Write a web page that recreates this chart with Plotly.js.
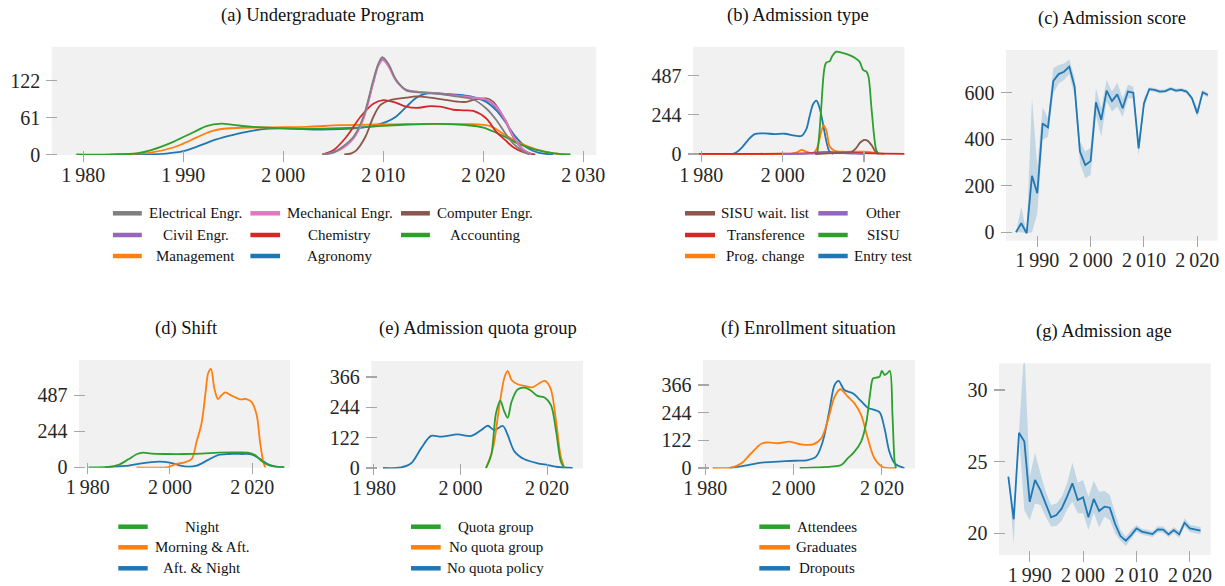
<!DOCTYPE html>
<html><head><meta charset="utf-8">
<script src="https://cdn.plot.ly/plotly-3.0.1.min.js"></script>
<style>html,body{margin:0;padding:0;background:#fff}</style>
</head><body><div id="chart" style="width:1225px;height:586px"></div>
<script>
// ---------- DATA ----------
// (a) Undergraduate Program (KDE curves)
const agroX = [1984.5,1986.5,1988.3,1990,1991.7,1993.3,1995,1996.7,1998.3,2000.7,2003.3,2005.7,2007.7,2009,2010.3,2011.3,2012.3,2013.3,2014.3,2015.7,2017.3,2019,2020.3,2021.3,2022.2,2023.2,2024.3,2025.5,2027];
const agroY = [0,0.3,1.6,5.5,15,25,32.5,38.6,42.4,43,41.3,41.9,44,47.4,54,63,78.8,94,100.8,100.8,99,95,87,73,54,30,12,3,0];
const mgmtX = [1982.7,1984.5,1986.7,1989,1990,1991.3,1992.7,1994.3,1995.7,1999,2002.3,2005.7,2009,2012.3,2015.7,2019,2020.7,2022.2,2023.5,2025.2,2027.1,2028.7];
const mgmtY = [0,0.5,3,11.6,18,28,38,43,44,45,45.7,48.5,49.6,50,50.7,50,46.8,32,20,9,2,0];
const accX = [1979.3,1983,1985.3,1986.7,1989,1990,1991.3,1992.3,1993.8,1995,1996.7,1999,2002.3,2005.7,2009,2012.3,2015.7,2018.3,2020,2021.3,2022.2,2023.5,2025.2,2027.1,2028.7];
const accY = [0,0.3,2,7,21,29,39,47,51,49,46,44,42.4,43.5,46,49.6,50.7,48.5,44.6,36,29,18,8,2,0];
const chemX = [2003.9,2005,2006.3,2007.7,2009,2010,2011,2012.3,2013.3,2014.7,2015.7,2017,2018,2019,2020.3,2021.3,2022.2,2023,2024,2025.2];
const chemY = [0,7,29,62,84,90,87,79,77,80,79,74,73,72,59.5,37.5,23.7,12,4,0];
const engX = [2004.1,2005.7,2007,2008,2009,2009.5,2009.95,2010.5,2011.3,2012.3,2013.3,2015.7,2017.3,2019,2020.5,2021.3,2022.2,2023,2024,2024.8];
const civilY = [0,9,27,60,120,148,158,148,122,107,104,101,98,94,89,77,55,29,7,0];
const mechY = [0,8,26,58,118,146,156,146,121,106,104,100,97,94,90,79,57,30,8,0];
const elecX = [2003.9,2005,2005.7,2007,2008,2009,2009.5,2009.9,2010.5,2011.3,2012.3,2013.3,2015.7,2017.3,2019,2020.3,2021.3,2022.2,2023,2024,2024.6];
const elecY = [0,3,10,29,62,123,150,161,150,123,106,103,100,96,91,76,57,35,18,5,0];
const compX = [2006.1,2006.8,2007.3,2008.2,2009,2009.7,2010.7,2012.3,2013.3,2014.3,2015.7,2017.3,2018.3,2019.3,2020.3,2021,2021.8,2022.2,2023,2024,2025];
const compY = [0,2,7,29,62,81.5,90,94,96,95,91.5,87.6,87,91.5,92.6,87,68,57,30,8,0];
const progNames = ["Agronomy","Management","Accounting","Chemistry","Civil Engr.","Computer Engr.","Mechanical Engr.","Electrical Engr."];

// (b) Admission type
const entryX = [1982.5,1986,1988.2,1989.8,1991.5,1993.1,1995.6,1998,2000.5,2003,2004.6,2005.8,2006.6,2007.5,2008.3,2009.1,2009.9,2010.7,2011.5,2012.4];
const entryY = [0,0.5,4,35,87,124,128,124,126,114,112,153,232,311,332,284,190,85,15,0];
const progChX = [1980,1995,2002,2003.5,2004.6,2005.8,2007.5,2008.5,2009.4,2010.1,2010.8,2011.6,2012.8,2015,2018,2020,2022,2023.5,2025];
const progChY = [0,0,1,10,25,15,4,40,130,180,140,45,20,14,15,14,10,4,0];
const sisuX = [2008.5,2009.0,2009.5,2010.2,2010.7,2011.6,2012.1,2013.2,2014.4,2016.1,2017.7,2018.9,2019.8,2020.6,2021.1,2021.8,2022.5,2023,2023.6];
const sisuY = [0,120,294,522,568,578,605,636,630,618,599,574,522,512,481,294,108,25,0];
const transX = [1978,1990,2000,2005,2008,2010,2013,2016,2020,2025,2030];
const transY = [0.5,1,2,4,8,12,10,8,5,2,0.5];
const otherX = [2000,2005,2008,2010,2012,2014,2016,2018,2020];
const otherY = [0,1,4,7,8,6,4,2,0];
const waitX = [2008,2012,2015,2016.9,2018,2019,2020,2021,2022,2022.8,2023.6];
const waitY = [0,5,8,12,35,70,87,80,50,15,0];
const admNames = ["Entry test","Prog. change","SISU","Transference","Other","SISU wait. list"];

// (c) Admission score (mean and confidence band)
const scoreYears = [1986,1987,1988,1989,1990,1991,1992,1993,1994,1995,1996,1997,1998,1999,2000,2001,2002,2003,2004,2005,2006,2007,2008,2009,2010,2011,2012,2013,2014,2015,2016,2017,2018,2019,2020,2021,2022];
const scoreMean = [0,39,-4,243,168,468,451,650,680,690,712,626,347,289,306,559,483,609,564,593,533,605,600,361,554,615,612,605,607,617,609,612,605,576,511,602,590];
const scoreLow  = [0,0,-4,0,82,397,411,597,640,655,680,583,297,232,246,504,411,562,519,540,497,576,575,328,533,607,604,597,599,609,601,604,597,566,494,592,580];
const scoreHigh = [0,110,-4,578,282,537,490,705,719,726,743,662,390,347,364,619,533,655,605,643,576,634,626,390,576,623,620,613,615,625,617,620,613,586,533,612,600];

// (d) Shift
const nightX = [1980.2,1985,1987.5,1989.9,1991.9,1993.5,1995.5,1999.6,2003.6,2007.7,2011.7,2015.8,2019,2020.7,2022.3,2023.9,2025.5,2027.8];
const nightY = [0,2,16,54,88,99,92,90,90,92,99,101,99,83,43,16,4.5,0];
const aftNX = [1984.2,1989.1,1993.1,1997.2,1999.6,2002,2004.5,2006.5,2009.3,2011.7,2014.2,2017.4,2019.8,2022.3,2023.9,2025.5,2027.8];
const aftNY = [0,9,27,38,34,16,4.5,11,50,83,90,90,88,50,20,7,0];
const mornX = [1991.9,1999.6,2001.2,2003.6,2005.3,2006.5,2007.7,2008.7,2009.3,2010,2010.8,2011.7,2012.6,2013.5,2015,2017,2018.6,2019.8,2021.1,2021.9,2022.7,2023.2];
const mornY = [0,2,20,34,56,174,298,512,636,665,535,462,489,507,485,460,462,444,354,174,38,0];
const shiftNames = ["Aft. & Night","Morning & Aft.","Night"];

// (e) Admission quota group
const noPolX = [1982.1,1986.3,1988.6,1990.9,1993.2,1995.5,1999.4,2002.5,2004.8,2006.3,2007.8,2009.8,2010.9,2012.5,2014.8,2017.8,2020.2,2022.5,2025.9];
const noPolY = [0,2.7,19,79,129,126,135,129,153,170,153,169,133,66,35,19,12,4,0];
const noGrpX = [2005.9,2007.5,2009,2010.2,2010.9,2011.8,2013.2,2014.8,2016.7,2018.2,2019.5,2020.8,2022.1,2023.1,2024];
const noGrpY = [0,79,253,367,391,354,337,330,325,341,350,320,186,52,0];
const quotaX = [2005.9,2007.1,2008.2,2009.2,2010,2010.9,2011.8,2013.2,2014.8,2016.3,2017.8,2019.4,2020.9,2022.1,2023.2,2024];
const quotaY = [0,52,220,271,233,202,267,316,323,311,290,284,253,146,25,0];
const quotaNames = ["No quota policy","No quota group","Quota group"];

// (f) Enrollment situation
const dropX = [1985.5,1989.7,1992.7,1996.5,2000.2,2003.2,2005.1,2006.6,2008.2,2009.3,2010.2,2011.5,2013.4,2015.3,2016.8,2018.3,2019.5,2020.6,2021.7,2022.9,2025.1];
const dropY = [0,13,23.5,28,32,35,50,116,263,366,384,344,329,295,266,256,245,175,72,20.6,0];
const gradX = [1981.7,1985.9,1988.2,1990.4,1992.7,1994.2,1996.5,1999.1,2001.7,2004.4,2006.3,2007.8,2009.3,2010.6,2012.3,2013.8,2015.3,2016.8,2018.3,2020.2,2023.2];
const gradY = [0,1.5,20.6,65,107,113,109,116,104,104,131,212,314,347,314,285,234,131,43,4.4,0];
const attX = [2001.4,2008.5,2010.8,2012.3,2013.8,2015.3,2016.5,2017.4,2018,2018.7,2019.5,2020,2020.6,2021.2,2021.8,2022.4,2022.9,2023.2];
const attY = [0,6,13,43,72,116,204,337,395,398,403,428,410,417,428,234,28,0];
const enrollNames = ["Dropouts","Graduates","Attendees"];

// (g) Admission age (mean and confidence band)
const ageYears = [1986,1987,1988,1989,1990,1991,1992,1993,1994,1995,1996,1997,1998,1999,2000,2001,2002,2003,2004,2005,2006,2007,2008,2009,2010,2011,2012,2013,2014,2015,2016,2017,2018,2019,2020,2021,2022];
const ageMean = [23.95,20.98,27.02,26.4,22.2,23.72,23.02,22.05,21.12,21.28,21.74,22.56,23.49,22.33,22.51,21.12,22.4,21.56,21.86,21.79,20.65,19.81,19.49,19.88,20.35,20.12,20.05,19.95,20.28,20.26,19.93,20.23,19.93,20.74,20.35,20.28,20.19];
const ageLow  = [23.95,19.3,26.9,21.6,20.93,22.09,21.98,21.16,20.47,20.51,20.88,21.67,22.21,21.4,21.4,20.23,21.44,20.4,21.16,20.93,20.0,19.49,19.12,19.58,20.12,19.92,19.85,19.75,20.06,20.04,19.72,20.01,19.7,20.47,20.1,20.03,19.93];
const ageHigh = [23.95,21.0,27.1,33.0,23.95,25.63,24.19,22.9,21.98,22.09,22.56,23.49,24.95,23.53,23.72,22.56,23.67,22.9,22.95,22.67,21.4,20.23,19.77,20.23,20.58,20.32,20.25,20.15,20.5,20.48,20.14,20.45,20.16,21.05,20.6,20.53,20.45];

// tick labels
const yTicksA = [0,61,122];
const yTicksB = [0,244,487];
const yTicksC = [0,200,400,600];
const yTicksE = [0,122,244,366];
const yTicksG = [20,25,30];

// ---------- STYLE ----------
const W = 1225, H = 586;
const C = {blue:'#1f77b4',orange:'#ff7f0e',green:'#2ca02c',red:'#d62728',purple:'#9467bd',brown:'#8c564b',pink:'#e377c2',gray:'#7f7f7f'};
const FONT = 'Liberation Serif';
const fmtYear = v => { const s = String(v); return s.length === 4 ? s[0] + '\u2009' + s.slice(1) : s; };

const panels = [
  {id:'',  box:[51.7,596.3,46.7,155], xr:[1976.84,2031.3], yr:[-0.8,178.2], xt:[1980,1990,2000,2010,2020,2030], yt:yTicksA, title:'(a) Undergraduate Program', tx:323, ty:15},
  {id:'2', box:[693,904.5,46.7,155], xr:[1977.96,2029.95], yr:[-6.2,667], xt:[1980,2000,2020], yt:yTicksB, title:'(b) Admission type', tx:798, ty:15},
  {id:'3', box:[1006,1217.7,50,240.7], xr:[1984.13,2023.83], yr:[-36.1,783.5], xt:[1990,2000,2010,2020], yt:yTicksC, title:'(c) Admission score', tx:1111.7, ty:18.3},
  {id:'4', box:[79,290,360,467.7], xr:[1977.9,2029.2], yr:[-2.7,726], xt:[1980,2000,2020], yt:yTicksB, title:'(d) Shift', tx:186, ty:328.3},
  {id:'5', box:[371.3,583,361,468.5], xr:[1979.4,2028.3], yr:[-2,430.4], xt:[1980,2000,2020], yt:yTicksE, title:'(e) Admission quota group', tx:477.7, ty:328.3},
  {id:'6', box:[703,915,360,468.5], xr:[1979.5,2027.5], yr:[-2.2,476], xt:[1980,2000,2020], yt:yTicksE, title:'(f) Enrollment situation', tx:808, ty:328.3},
  {id:'7', box:[999,1210.7,363.3,555], xr:[1984.25,2023.9], yr:[18.49,31.86], xt:[1990,2000,2010,2020], yt:yTicksG, title:'(g) Admission age', tx:1104, ty:331.7}
];

const layout = {
  width:W, height:H, margin:{l:0,r:0,t:0,b:0}, paper_bgcolor:'#fff', plot_bgcolor:'#f1f1f1',
  showlegend:false, font:{family:FONT, color:'#262626'}, annotations:[], shapes:[]
};
const HALF = 5.5;
panels.forEach(p => {
  const [l,r,t,b] = p.box;
  layout['xaxis'+p.id] = {domain:[l/W, r/W], range:p.xr, anchor:'free', position:1-(b-HALF)/H,
    tickvals:p.xt, ticktext:p.xt.map(fmtYear), ticks:'outside', ticklen:2*HALF, tickcolor:'#a6a6a6', tickwidth:1.1,
    showgrid:false, zeroline:false, showline:false, tickfont:{family:FONT,size:20,color:'#262626'}, ticklabelstandoff:-4};
  layout['yaxis'+p.id] = {domain:[1-b/H, 1-t/H], range:p.yr, anchor:'free', position:(l+HALF)/W,
    tickvals:p.yt, ticktext:p.yt.map(String), ticks:'outside', ticklen:2*HALF, tickcolor:'#a6a6a6', tickwidth:1.1,
    showgrid:false, zeroline:false, showline:false, tickfont:{family:FONT,size:20,color:'#262626'}, ticklabelstandoff:2};
  layout.annotations.push({text:p.title, xref:'paper', yref:'paper', x:p.tx/W, y:1-p.ty/H, xanchor:'center', yanchor:'middle',
    showarrow:false, font:{family:FONT,size:18.5,color:'#111'}});
});

const traces = [];
function line(id, x, y, color, w) {
  traces.push({type:'scatter', mode:'lines', x:x, y:y, xaxis:'x'+id, yaxis:'y'+id,
    line:{color:color, width:w||1.8, shape:'spline', smoothing:0.9}, hoverinfo:'skip'});
}
function band(id, x, lo, hi, mean) {
  traces.push({type:'scatter', mode:'lines', x:x, y:hi, xaxis:'x'+id, yaxis:'y'+id, line:{width:0}, hoverinfo:'skip'});
  traces.push({type:'scatter', mode:'lines', x:x, y:lo, xaxis:'x'+id, yaxis:'y'+id, line:{width:0}, fill:'tonexty', fillcolor:'rgba(31,119,180,0.22)', hoverinfo:'skip'});
  traces.push({type:'scatter', mode:'lines', x:x, y:mean, xaxis:'x'+id, yaxis:'y'+id, line:{color:C.blue, width:1.8}, hoverinfo:'skip'});
}

// (a)
line('', agroX, agroY, C.blue);
line('', mgmtX, mgmtY, C.orange);
line('', accX, accY, C.green);
line('', chemX, chemY, C.red);
line('', engX, civilY, C.purple);
line('', compX, compY, C.brown);
line('', engX, mechY, C.pink);
line('', elecX, elecY, C.gray);
// (b)
line('2', entryX, entryY, C.blue);
line('2', progChX, progChY, C.orange);
line('2', sisuX, sisuY, C.green);
line('2', transX, transY, C.red);
line('2', otherX, otherY, C.purple);
line('2', waitX, waitY, C.brown);
// (c)
band('3', scoreYears, scoreLow, scoreHigh, scoreMean);
// (d)
line('4', aftNX, aftNY, C.blue);
line('4', mornX, mornY, C.orange);
line('4', nightX, nightY, C.green);
// (e)
line('5', noPolX, noPolY, C.blue);
line('5', noGrpX, noGrpY, C.orange);
line('5', quotaX, quotaY, C.green);
// (f)
line('6', dropX, dropY, C.blue);
line('6', gradX, gradY, C.orange);
line('6', attX, attY, C.green);
// (g)
band('7', ageYears, ageLow, ageHigh, ageMean);

// ---------- LEGENDS (handles + centered labels) ----------
function legend(entries, cols, rows) {
  entries.forEach(e => {
    const [name, color, ci, ri] = e;
    const c = cols[ci], y = rows[ri];
    layout.shapes.push({type:'line', xref:'paper', yref:'paper', x0:c[0]/W, x1:c[1]/W, y0:1-y/H, y1:1-y/H,
      line:{color:color, width:4.5}});
    layout.annotations.push({text:name, xref:'paper', yref:'paper', x:c[2]/W, y:1-y/H, xanchor:'center', yanchor:'middle',
      showarrow:false, font:{family:FONT,size:15,color:'#111'}});
  });
}
const rowsTop = [213.3,235,256], rowsBot = [526.7,547.3,568.3];
legend([[progNames[7],C.gray,0,0],[progNames[4],C.purple,0,1],[progNames[1],C.orange,0,2],
        [progNames[6],C.pink,1,0],[progNames[3],C.red,1,1],[progNames[0],C.blue,1,2],
        [progNames[5],C.brown,2,0],[progNames[2],C.green,2,1]],
       [[112.9,141.8,195.7],[250.4,280.1,339.7],[401,429.9,485]], rowsTop);
legend([[admNames[5],C.brown,0,0],[admNames[3],C.red,0,1],[admNames[1],C.orange,0,2],
        [admNames[4],C.purple,1,0],[admNames[2],C.green,1,1],[admNames[0],C.blue,1,2]],
       [[685,715,765.8],[818.3,847.7,883]], rowsTop);
legend([[shiftNames[2],C.green,0,0],[shiftNames[1],C.orange,0,1],[shiftNames[0],C.blue,0,2]],
       [[118.3,147.7,202]], rowsBot);
legend([[quotaNames[2],C.green,0,0],[quotaNames[1],C.orange,0,1],[quotaNames[0],C.blue,0,2]],
       [[411,440.7,495.5]], rowsBot);
legend([[enrollNames[2],C.green,0,0],[enrollNames[1],C.orange,0,1],[enrollNames[0],C.blue,0,2]],
       [[759.3,790,826.5]], rowsBot);

Plotly.newPlot('chart', traces, layout, {staticPlot:true, displayModeBar:false});
</script></body></html>
